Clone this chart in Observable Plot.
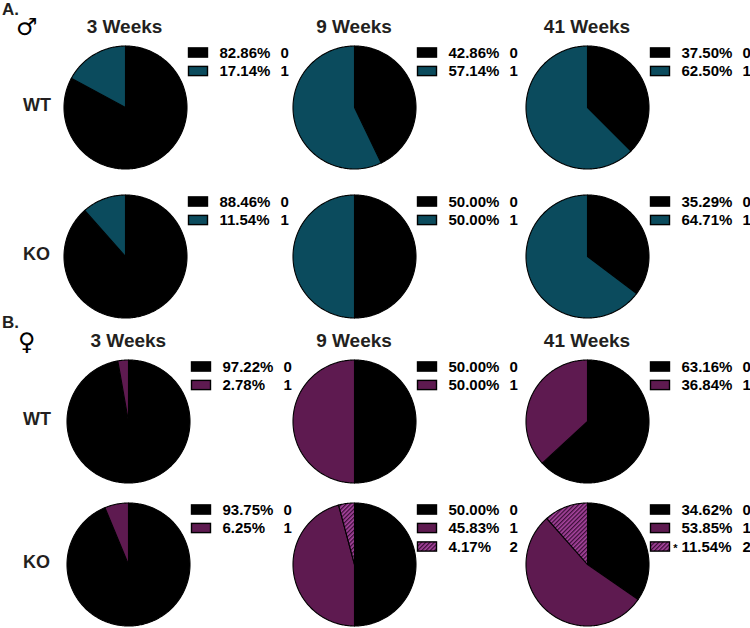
<!DOCTYPE html>
<html><head><meta charset="utf-8">
<script src="https://cdn.jsdelivr.net/npm/d3@7"></script>
<script src="https://cdn.jsdelivr.net/npm/@observablehq/plot@0.6"></script>
<style>
body{margin:0;background:#fff;}
#fig{position:relative;width:750px;height:628px;overflow:hidden;font-family:"Liberation Sans",Arial,sans-serif;font-weight:bold;color:#231f20;}
.lbl{position:absolute;white-space:nowrap;line-height:1;}
.ctr{transform:translateX(-50%);}
.panel{position:absolute;}
.sym{font-family:"DejaVu Sans",sans-serif;font-weight:bold;color:#000;}
</style></head><body>
<svg width="0" height="0" style="position:absolute">
  <defs>
    <pattern id="hatch" width="3" height="3" patternUnits="userSpaceOnUse" patternTransform="rotate(45)">
      <rect width="3" height="3" fill="#a8459f"></rect>
      <rect width="1.3" height="3" fill="#3a0d36"></rect>
    </pattern>
  </defs>
</svg>
<div id="fig"></div>
<script>
// ---- data ----
const weeks = ["3 Weeks", "9 Weeks", "41 Weeks"];
const genotypes = ["WT", "KO"];
const categories = ["0", "1", "2"];
const maleWT   = [[82.86, 17.14], [42.86, 57.14], [37.50, 62.50]];
const maleKO   = [[88.46, 11.54], [50.00, 50.00], [35.29, 64.71]];
const femaleWT = [[97.22, 2.78], [50.00, 50.00], [63.16, 36.84]];
const femaleKO = [[93.75, 6.25], [50.00, 45.83, 4.17], [34.62, 53.85, 11.54]];
const femaleKOStars = [["", ""], ["", "", ""], ["", "", "*"]];
const maleColor = "#0b4b5d";
const femaleColor = "#5e1a50";

// ---- layout ----
const R = 61.5, PCX = 64, PCY = 65, PW = 232, PH = 130;
const sections = [
  {letter: "A.", symbol: "♂", color: maleColor, rows: [maleWT, maleKO], stars: [null, null],
   top: 0, letterTop: 0.6, cols: [124.5, 354, 587], rowCy: [107, 255.5], symX: 16, symTop: 15},
  {letter: "B.", symbol: "♀", color: femaleColor, rows: [femaleWT, femaleKO], stars: [null, femaleKOStars],
   top: 314, letterTop: 313.6, cols: [128.3, 354, 587], rowCy: [421, 564], symX: 18, symTop: 329.5}
];
const fig = document.getElementById("fig");

function addLabel(text, left, top, size, cls) {
  const d = document.createElement("div");
  d.className = "lbl " + (cls || "");
  d.textContent = text;
  d.style.left = left + "px";
  d.style.top = top + "px";
  d.style.fontSize = size + "px";
  fig.appendChild(d);
  return d;
}

function piePanel(values, accent, stars) {
  const slices = values.map((v, i) => ({cat: categories[i], value: v, star: stars ? stars[i] : ""}));
  const arcs = d3.pie().sort(null).value(d => d.value)(slices);
  const pts = [];
  for (const a of arcs) {
    pts.push({cat: a.data.cat, x: 0, y: 0});
    const n = Math.max(2, Math.ceil((a.endAngle - a.startAngle) / (Math.PI / 180)));
    for (let k = 0; k <= n; k++) {
      const t = a.startAngle + (a.endAngle - a.startAngle) * k / n;
      pts.push({cat: a.data.cat, x: Math.sin(t), y: Math.cos(t)});
    }
    pts.push({cat: a.data.cat, x: 0, y: 0});
  }
  const legend = slices.map((d, i) => {
    const yc = (54.5 - 18.5 * i) / R;
    return {...d, x1: 63.5 / R, x2: 82.5 / R, y1: yc - 4.6 / R, y2: yc + 4.6 / R, yc,
            xp: 94 / R, xc: 155 / R, xs: 88 / R, pct: d.value.toFixed(2) + "%"};
  });
  return Plot.plot({
    width: PW, height: PH, margin: 0,
    style: "overflow:visible;max-width:none;background:transparent;font-family:'Liberation Sans',Arial,sans-serif;",
    x: {domain: [-1, 1], range: [PCX - R, PCX + R], axis: null},
    y: {domain: [-1, 1], range: [PCY + R, PCY - R], axis: null},
    color: {type: "ordinal", domain: categories, range: ["#000000", accent, "url(#hatch)"]},
    marks: [
      Plot.line(pts, {x: "x", y: "y", z: "cat", fill: "cat", stroke: "#000", strokeWidth: 1.1, strokeLinejoin: "round"}),
      Plot.rect(legend, {x1: "x1", x2: "x2", y1: "y1", y2: "y2", fill: "cat", stroke: "#000", strokeWidth: 1.4}),
      Plot.text(legend, {x: "xp", y: "yc", text: "pct", textAnchor: "start", fontSize: 15, fontWeight: "bold", fill: "#000"}),
      Plot.text(legend, {x: "xc", y: "yc", text: "cat", textAnchor: "start", fontSize: 15, fontWeight: "bold", fill: "#000"}),
      Plot.text(legend.filter(d => d.star), {x: "xs", y: "yc", text: "star", textAnchor: "middle", fontSize: 11, fontWeight: "bold", fill: "#000", dy: 1})
    ]
  });
}

for (const s of sections) {
  addLabel(s.letter, 2, s.letterTop, 17);
  addLabel(s.symbol, s.symX, s.symTop, 24, "sym");
  weeks.forEach((w, j) => addLabel(w, s.cols[j], s.top + 17.2, 19, "ctr"));
  genotypes.forEach((g, r) => {
    addLabel(g, 23, s.rowCy[r] - 10.8, 18);
    s.rows[r].forEach((vals, j) => {
      const p = piePanel(vals, s.color, s.stars[r] ? s.stars[r][j] : null);
      const wrap = document.createElement("div");
      wrap.className = "panel";
      wrap.style.left = (s.cols[j] - PCX) + "px";
      wrap.style.top = (s.rowCy[r] - PCY) + "px";
      wrap.appendChild(p);
      fig.appendChild(wrap);
    });
  });
}
</script>
</body></html>
